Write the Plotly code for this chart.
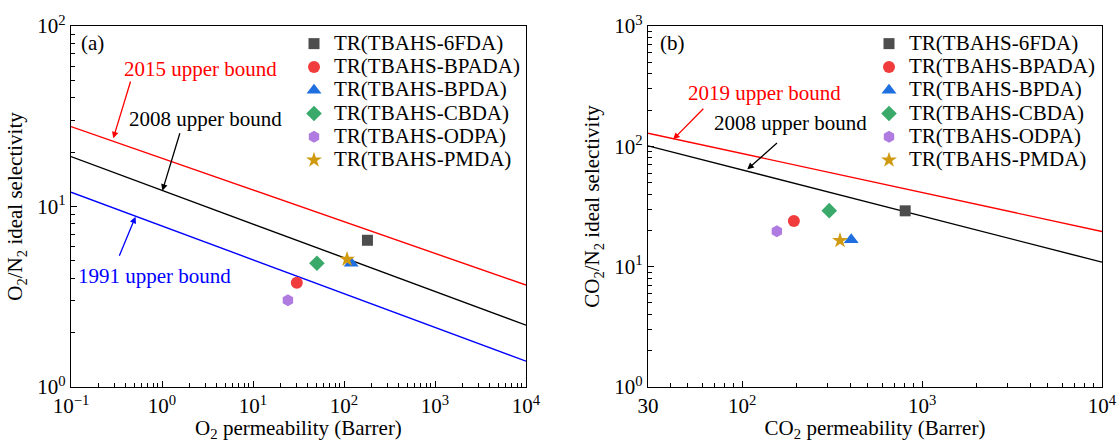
import plotly.graph_objects as go

# ---------------- data ----------------
names = ["TR(TBAHS-6FDA)", "TR(TBAHS-BPADA)", "TR(TBAHS-BPDA)",
         "TR(TBAHS-CBDA)", "TR(TBAHS-ODPA)", "TR(TBAHS-PMDA)"]
symbols = ["square", "circle", "triangle-up", "diamond", "hexagon", "star"]
colors = ["#4d4d4d", "#f03c3c", "#1f6fe0", "#3aaa6a", "#b07be0", "#cf9a10"]
sizes = [11, 12, 13, 12, 12, 12]

o2_perm = [181, 30.3, 120, 50.4, 24.2, 108]
o2n2_sel = [6.5, 3.78, 4.85, 4.85, 3.02, 5.1]

co2_perm = [806, 194, 404, 305, 156, 350]
co2n2_sel = [29.1, 24.0, 16.7, 29.2, 19.7, 16.5]

bound_x_o2 = [0.1, 1e4]
ub2015_o2 = [27.7, 3.67]
ub2008_o2 = [18.9, 2.2]
ub1991_o2 = [12.0, 1.39]

bound_x_co2 = [30, 1e4]
ub2019_co2 = [128.5, 19.6]
ub2008_co2 = [101, 10.9]

left_xticks = [0.1, 1, 10, 100, 1000, 10000]
left_xticktext = ["10<sup>−1</sup>", "10<sup>0</sup>", "10<sup>1</sup>",
                  "10<sup>2</sup>", "10<sup>3</sup>", "10<sup>4</sup>"]
left_yticks = [1, 10, 100]
left_yticktext = ["10<sup>0</sup>", "10<sup>1</sup>", "10<sup>2</sup>"]
right_xticks = [30, 100, 1000, 10000]
right_xticktext = ["30", "10<sup>2</sup>", "10<sup>3</sup>", "10<sup>4</sup>"]
right_yticks = [1, 10, 100, 1000]
right_yticktext = ["10<sup>0</sup>", "10<sup>1</sup>", "10<sup>2</sup>", "10<sup>3</sup>"]

# ---------------- layout helpers ----------------
W, H = 1117, 442
FONT = "Liberation Serif"
FS = 21


def px(x):
    return x / W


def py(y):
    return 1 - y / H


def minor_vals(lo_dec, hi_dec):
    vals = []
    for d in range(lo_dec, hi_dec):
        for m in range(2, 10):
            vals.append(m * 10 ** d)
    return vals


fig = go.Figure()

line_w = 1.4
fig.add_trace(go.Scatter(x=bound_x_o2, y=ub2015_o2, mode="lines",
                         line=dict(color="#ff0000", width=line_w),
                         showlegend=False, xaxis="x", yaxis="y"))
fig.add_trace(go.Scatter(x=bound_x_o2, y=ub2008_o2, mode="lines",
                         line=dict(color="#000000", width=line_w),
                         showlegend=False, xaxis="x", yaxis="y"))
fig.add_trace(go.Scatter(x=bound_x_o2, y=ub1991_o2, mode="lines",
                         line=dict(color="#0000ff", width=line_w),
                         showlegend=False, xaxis="x", yaxis="y"))
fig.add_trace(go.Scatter(x=bound_x_co2, y=ub2019_co2, mode="lines",
                         line=dict(color="#ff0000", width=line_w),
                         showlegend=False, xaxis="x2", yaxis="y2"))
fig.add_trace(go.Scatter(x=bound_x_co2, y=ub2008_co2, mode="lines",
                         line=dict(color="#000000", width=line_w),
                         showlegend=False, xaxis="x2", yaxis="y2"))

span = "<span style='font-family:Liberation Serif;font-size:%dpx'>%s</span>"
for i in range(len(names)):
    fig.add_trace(go.Scatter(
        x=[o2_perm[i]], y=[o2n2_sel[i]], mode="markers",
        name=span % (FS, names[i]),
        marker=dict(symbol=symbols[i], color=colors[i], size=sizes[i],
                    line=dict(width=0)),
        xaxis="x", yaxis="y", legend="legend"))
for i in range(len(names)):
    fig.add_trace(go.Scatter(
        x=[co2_perm[i]], y=[co2n2_sel[i]], mode="markers",
        name=span % (FS, names[i]),
        marker=dict(symbol=symbols[i], color=colors[i], size=sizes[i],
                    line=dict(width=0)),
        xaxis="x2", yaxis="y2", legend="legend2"))

tickfont = dict(family=FONT, size=FS, color="black")
titlefont = dict(family=FONT, size=FS, color="black")


def axis_common():
    return dict(type="log", showgrid=False, zeroline=False, showline=True,
                linecolor="black", linewidth=1.4, mirror=True,
                ticks="inside", ticklen=6, tickwidth=1.2, tickcolor="black",
                tickfont=tickfont, automargin=False)


ydom = [py(387), py(26)]

xa = axis_common()
xa.update(domain=[px(71), px(526)], range=[-1, 4], anchor="y",
          tickmode="array", tickvals=left_xticks, ticktext=left_xticktext,
          minor=dict(tickvals=minor_vals(-1, 4), ticks="inside", ticklen=3.5,
                     tickwidth=1.1, tickcolor="black", showgrid=False),
          title=dict(text="O<sub>2</sub> permeability (Barrer)", font=titlefont,
                     standoff=4))
ya = axis_common()
ya.update(domain=ydom, range=[0, 2], anchor="x",
          tickmode="array", tickvals=left_yticks, ticktext=left_yticktext,
          minor=dict(tickvals=minor_vals(0, 2), ticks="inside", ticklen=3.5,
                     tickwidth=1.1, tickcolor="black", showgrid=False),
          title=dict(text="O<sub>2</sub>/N<sub>2</sub> ideal selectivity",
                     font=titlefont, standoff=8))
xa2 = axis_common()
xa2.update(domain=[px(648), px(1102)], range=[1.47712, 4], anchor="y2",
           tickmode="array", tickvals=right_xticks, ticktext=right_xticktext,
           minor=dict(tickvals=[40, 50, 60, 70, 80, 90] + minor_vals(2, 4),
                      ticks="inside", ticklen=3.5, tickwidth=1.1,
                      tickcolor="black", showgrid=False),
           title=dict(text="CO<sub>2</sub> permeability (Barrer)",
                      font=titlefont, standoff=4))
ya2 = axis_common()
ya2.update(domain=ydom, range=[0, 3], anchor="x2",
           tickmode="array", tickvals=right_yticks, ticktext=right_yticktext,
           minor=dict(tickvals=minor_vals(0, 3), ticks="inside", ticklen=3.5,
                      tickwidth=1.1, tickcolor="black", showgrid=False),
           title=dict(text="CO<sub>2</sub>/N<sub>2</sub> ideal selectivity",
                      font=titlefont, standoff=8))

annotations = []


def label(text, x, y, color):
    annotations.append(dict(text=text, xref="paper", yref="paper",
                            x=px(x), y=py(y), xanchor="left", yanchor="middle",
                            showarrow=False,
                            font=dict(family=FONT, size=FS, color=color)))


def arrow(hx, hy, tx, ty, color):
    annotations.append(dict(text="", xref="paper", yref="paper",
                            x=px(hx), y=py(hy), ax=tx - hx, ay=ty - hy,
                            showarrow=True, arrowhead=2, arrowsize=1,
                            arrowwidth=1.3, arrowcolor=color, standoff=0))


label("(a)", 79, 43, "black")
label("2015 upper bound", 122, 69, "#ff0000")
label("2008 upper bound", 127, 119, "black")
label("1991 upper bound", 76, 276, "#0000ff")
arrow(113.3, 138.3, 131, 80, "#ff0000")
arrow(162.4, 190.7, 180.3, 131.7, "black")
arrow(135.5, 216.7, 118.7, 257.3, "#0000ff")

label("(b)", 658, 43, "black")
label("2019 upper bound", 686, 93, "#ff0000")
label("2008 upper bound", 712, 123, "black")
arrow(673.2, 139.3, 704.8, 107.3, "#ff0000")
arrow(747.3, 169.3, 778.5, 141.7, "black")

legend_common = dict(font=dict(family=FONT, size=15.6, color="black"),
                     bgcolor="rgba(0,0,0,0)", borderwidth=0,
                     xanchor="left", yanchor="top", tracegroupgap=0)
l1 = dict(legend_common)
l1.update(x=px(294), y=py(27))
l2 = dict(legend_common)
l2.update(x=px(869), y=py(27))

fig.update_layout(
    template="none",
    width=W, height=H, margin=dict(l=0, r=0, t=0, b=0, pad=0, autoexpand=False),
    paper_bgcolor="white", plot_bgcolor="white",
    font=dict(family=FONT, size=FS, color="black"),
    xaxis=xa, yaxis=ya, xaxis2=xa2, yaxis2=ya2,
    legend=l1, legend2=l2,
    annotations=annotations,
    showlegend=True,
)

fig.write_html("out.html")
